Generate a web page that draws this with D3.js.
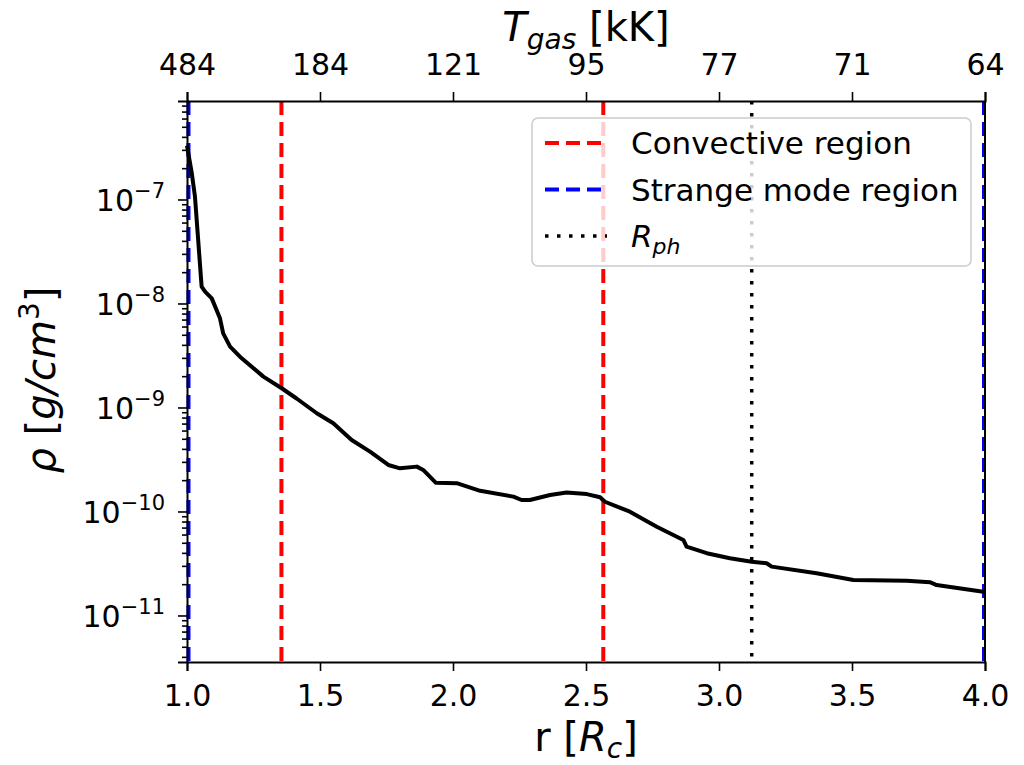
<!DOCTYPE html>
<html>
<head>
<meta charset="utf-8">
<script src="https://cdn.jsdelivr.net/npm/d3@7"></script>
<style>
  body { margin: 0; background: #fff; }
  text { font-family: "DejaVu Sans", sans-serif; fill: #000; }
</style>
</head>
<body>
<div id="my_dataviz"></div>
<script>
// radius in core radii and density in g/cm^3
var rVals   = [1.000, 1.018, 1.030, 1.042, 1.055, 1.068, 1.093, 1.124, 1.136, 1.162, 1.199, 1.287, 1.356, 1.412,
               1.488, 1.550, 1.619, 1.688, 1.757, 1.801, 1.864, 1.888, 1.935, 2.014, 2.102, 2.227, 2.258, 2.289,
               2.365, 2.427, 2.503, 2.553, 2.571, 2.665, 2.766, 2.866, 2.878, 2.954, 3.041, 3.123, 3.179, 3.198,
               3.367, 3.505, 3.706, 3.793, 3.818, 4.000];
var rhoVals = [3.3e-7, 1.79e-7, 1.06e-7, 4.08e-8, 1.45e-8, 1.30e-8, 1.12e-8, 7.2e-9, 5.16e-9, 3.85e-9, 3.08e-9, 1.98e-9, 1.53e-9, 1.22e-9,
               8.8e-10, 7.05e-10, 4.87e-10, 3.76e-10, 2.80e-10, 2.60e-10, 2.70e-10, 2.51e-10, 1.89e-10, 1.87e-10, 1.58e-10, 1.39e-10, 1.29e-10, 1.29e-10,
               1.44e-10, 1.52e-10, 1.47e-10, 1.37e-10, 1.24e-10, 9.95e-11, 7.14e-11, 5.32e-11, 4.59e-11, 3.97e-11, 3.55e-11, 3.29e-11, 3.18e-11, 2.95e-11,
               2.55e-11, 2.19e-11, 2.16e-11, 2.09e-11, 1.96e-11, 1.68e-11];

var xTicks = [1.0, 1.5, 2.0, 2.5, 3.0, 3.5, 4.0];
var tempLabels = ["484", "184", "121", "95", "77", "71", "64"];   // top axis, T_gas in kK
var yExponents = [-7, -8, -9, -10, -11];

var convectiveR = [1.355, 2.565];
var strangeR = [1.0, 4.0];
var photoR = 3.123;

var legendItems = [
  {label: "Convective region", color: "red", dash: "14,7", width: 4},
  {label: "Strange mode region", color: "#0000ff", dash: "14,7", width: 4},
  {label: "R", sub: "ph", color: "#000", dash: "3.5,8.5", width: 3.5}
];

var margin = {top: 101, right: 39, bottom: 103, left: 187},
    width = 1024 - margin.left - margin.right,
    height = 765 - margin.top - margin.bottom;

var svgRoot = d3.select("#my_dataviz")
  .append("svg")
  .attr("width", 1024)
  .attr("height", 765);

var svg = svgRoot.append("g")
  .attr("transform", "translate(" + margin.left + "," + margin.top + ")");

var x = d3.scaleLinear().domain([1.0, 4.0]).range([0, width]);
var y = d3.scaleLog().domain([3.57e-12, 8.85e-7]).range([height, 0]);

// vertical region markers
svg.selectAll("convLines")
  .data(convectiveR)
  .enter()
  .append("line")
  .attr("x1", function(d){ return x(d) })
  .attr("x2", function(d){ return x(d) })
  .attr("y1", 0).attr("y2", height)
  .attr("stroke", "red")
  .attr("stroke-width", 4)
  .attr("stroke-dasharray", "14,7");

svg.selectAll("strangeLines")
  .data(strangeR)
  .enter()
  .append("line")
  .attr("x1", function(d){ return x(d) + (d == 1.0 ? 1.5 : -1) })
  .attr("x2", function(d){ return x(d) + (d == 1.0 ? 1.5 : -1) })
  .attr("y1", 0).attr("y2", height)
  .attr("stroke", "#0000ff")
  .attr("stroke-width", 4)
  .attr("stroke-dasharray", "14,7");

svg.append("line")
  .attr("x1", x(photoR)).attr("x2", x(photoR))
  .attr("y1", 0).attr("y2", height)
  .attr("stroke", "#000")
  .attr("stroke-width", 3.5)
  .attr("stroke-dasharray", "3.5,8.5");

// density profile
var line = d3.line()
  .x(function(d, i) { return x(rVals[i]) })
  .y(function(d) { return y(d) });

svg.append("path")
  .datum(rhoVals)
  .attr("d", line)
  .attr("fill", "none")
  .attr("stroke", "#000")
  .attr("stroke-width", 4)
  .attr("stroke-linejoin", "round");

// bottom axis
var xAxis = svg.append("g")
  .attr("transform", "translate(0," + height + ")")
  .call(d3.axisBottom(x).tickValues(xTicks).tickFormat(d3.format(".1f")).tickSizeOuter(0).tickSize(9));

// top axis with temperature labels
var topAxis = svg.append("g")
  .call(d3.axisTop(x).tickValues(xTicks).tickFormat(function(d, i){ return tempLabels[i] }).tickSizeOuter(0).tickSize(9));

// left axis: log ticks, labels drawn by hand with superscripts
var majorVals = yExponents.map(function(e){ return Math.pow(10, e) });
var minorVals = [];
y.ticks().forEach(function(t){
  var e = Math.floor(Math.log10(t) + 1e-9);
  var m = Math.round(t / Math.pow(10, e));
  if (m != 1) minorVals.push(t);
});

var yAxis = svg.append("g")
  .call(d3.axisLeft(y).tickValues(majorVals).tickFormat("").tickSizeOuter(0).tickSize(9));

svg.append("g")
  .call(d3.axisLeft(y).tickValues(minorVals).tickFormat("").tickSizeOuter(0).tickSize(5))
  .select(".domain").remove();

var yLab = svg.selectAll("yLabels")
  .data(yExponents)
  .enter()
  .append("text")
  .attr("x", -22)
  .attr("y", function(d){ return y(Math.pow(10, d)) + 12 })
  .attr("text-anchor", "end")
  .style("font-size", "30px");
yLab.append("tspan").text("10");
yLab.append("tspan")
  .attr("dy", -13)
  .style("font-size", "21px")
  .text(function(d){ return "\u2212" + Math.abs(d) });

// right spine
svg.append("line")
  .attr("x1", width).attr("x2", width)
  .attr("y1", 0).attr("y2", height)
  .attr("stroke", "#000").attr("stroke-width", 2);

svg.selectAll(".domain").attr("stroke-width", 2);
svg.selectAll(".tick line").attr("stroke-width", 1.6);
xAxis.selectAll("text").style("font-size", "30px").attr("y", 44).attr("dy", null);
topAxis.selectAll("text").style("font-size", "30px").attr("y", -26).attr("dy", null);

// axis titles
var xTitle = svgRoot.append("text")
  .attr("x", 586).attr("y", 751)
  .attr("text-anchor", "middle")
  .style("font-size", "40px");
xTitle.append("tspan").text("r [");
xTitle.append("tspan").style("font-style", "italic").text("R");
xTitle.append("tspan").style("font-style", "italic").style("font-size", "28px").attr("dy", 7).text("c");
xTitle.append("tspan").attr("dy", -7).text("]");

var tTitle = svgRoot.append("text")
  .attr("x", 586).attr("y", 41)
  .attr("text-anchor", "middle")
  .style("font-size", "40px");
tTitle.append("tspan").style("font-style", "italic").text("T");
tTitle.append("tspan").style("font-style", "italic").style("font-size", "28px").attr("dy", 8).text("gas");
tTitle.append("tspan").attr("dy", -8).text(" [kK]");

var yTitle = svgRoot.append("text")
  .attr("transform", "translate(55,380) rotate(-90)")
  .attr("text-anchor", "middle")
  .style("font-size", "40px");
yTitle.append("tspan").style("font-style", "italic").text("\u03c1");
yTitle.append("tspan").text(" [");
yTitle.append("tspan").style("font-style", "italic").text("g/cm");
yTitle.append("tspan").style("font-size", "28px").attr("dy", -16).text("3");
yTitle.append("tspan").attr("dy", 16).text("]");

// legend
var legend = svg.append("g").attr("transform", "translate(345,17)");
legend.append("rect")
  .attr("x", 0).attr("y", 0)
  .attr("width", 439).attr("height", 148)
  .attr("rx", 6)
  .attr("fill", "#fff").attr("fill-opacity", 0.8)
  .attr("stroke", "#cccccc").attr("stroke-width", 1.5);

var items = legend.selectAll("myLegend")
  .data(legendItems)
  .enter()
  .append("g")
  .attr("transform", function(d, i){ return "translate(0," + (25 + i * 46.5) + ")" });

items.append("line")
  .attr("x1", 13).attr("x2", 75)
  .attr("y1", 0).attr("y2", 0)
  .attr("stroke", function(d){ return d.color })
  .attr("stroke-width", function(d){ return d.width })
  .attr("stroke-dasharray", function(d){ return d.dash });

var itemText = items.append("text")
  .attr("x", 99).attr("y", 11)
  .style("font-size", "31px");
itemText.append("tspan")
  .style("font-style", function(d){ return d.sub ? "italic" : "normal" })
  .text(function(d){ return d.label });
itemText.filter(function(d){ return d.sub })
  .append("tspan")
  .style("font-style", "italic")
  .style("font-size", "22px")
  .attr("dy", 7)
  .text(function(d){ return d.sub });
</script>
</body>
</html>
